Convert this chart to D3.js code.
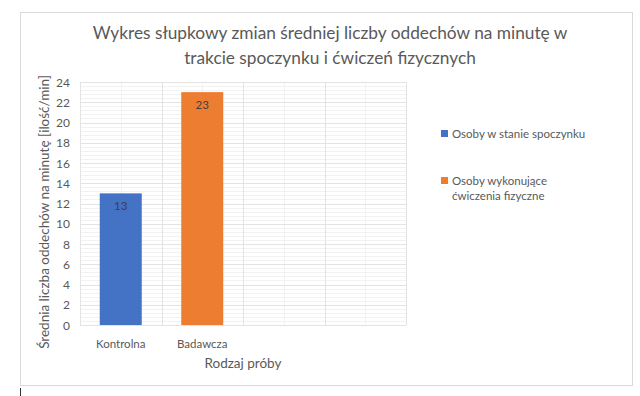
<!DOCTYPE html>
<html><head><meta charset="utf-8">
<script src="https://cdn.jsdelivr.net/npm/d3@7"></script>
<style>body{margin:0;background:#fff}svg{display:block}</style>
</head><body>
<script>
const categories = ["Kontrolna", "Badawcza", "", ""];
const seriesNames = ["Osoby w stanie spoczynku", "Osoby wykonujące ćwiczenia fizyczne"];
const seriesValues = [13, 23];            // value of each series
const seriesCategory = ["Kontrolna", "Badawcza"];
const yTicks = [0, 2, 4, 6, 8, 10, 12, 14, 16, 18, 20, 22, 24];
const colors = ["#4472C4", "#ED7D31"];
const titleLines = ["Wykres słupkowy zmian średniej liczby oddechów na minutę w", "trakcie spoczynku i ćwiczeń fizycznych"];

const W = 640, H = 396;
const font = "Lato, 'Open Sans', sans-serif";
const svg = d3.select("body").append("svg").attr("width", W).attr("height", H);
svg.append("rect").attr("x", 20.5).attr("y", 12.5).attr("width", 612).attr("height", 373)
  .attr("fill", "#fff").attr("stroke", "#D9D9D9");
svg.append("line").attr("x1", 20.5).attr("x2", 20.5).attr("y1", 388).attr("y2", 396).attr("stroke", "#333");

const m = {l: 80, r: 406, t: 82, b: 325};
const x = d3.scaleBand().domain(categories.map((c, i) => i)).range([m.l, m.r]).paddingInner(0).paddingOuter(0);
const y = d3.scaleLinear().domain([0, 24]).range([m.b, m.t]);

const g = svg.append("g");
// minor horizontal grid
g.selectAll(".hmin").data(d3.range(0, 24.01, 0.4)).enter().append("line")
  .attr("x1", m.l).attr("x2", m.r).attr("y1", d => Math.round(y(d)) + 0.5).attr("y2", d => Math.round(y(d)) + 0.5)
  .attr("stroke", "#F2F2F2");
// minor vertical grid
g.selectAll(".vmin").data(categories.map((c, i) => i)).enter().append("line")
  .attr("y1", m.t).attr("y2", m.b).attr("x1", d => Math.round(x(d) + x.bandwidth() / 2) + 0.5).attr("x2", d => Math.round(x(d) + x.bandwidth() / 2) + 0.5)
  .attr("stroke", "#F2F2F2");
// major horizontal grid
g.selectAll(".hmaj").data(yTicks).enter().append("line")
  .attr("x1", m.l).attr("x2", m.r).attr("y1", d => Math.round(y(d)) + 0.5).attr("y2", d => Math.round(y(d)) + 0.5)
  .attr("stroke", "#E3E3E3");
// major vertical grid
g.selectAll(".vmaj").data(d3.range(categories.length + 1)).enter().append("line")
  .attr("y1", m.t).attr("y2", m.b)
  .attr("x1", d => Math.round(d < categories.length ? x(d) : m.r) + 0.5)
  .attr("x2", d => Math.round(d < categories.length ? x(d) : m.r) + 0.5)
  .attr("stroke", "#E3E3E3");

// bars
const bw = 42;
seriesValues.forEach((v, i) => {
  const ci = categories.indexOf(seriesCategory[i]);
  const cx = x(ci) + x.bandwidth() / 2;
  svg.append("rect").attr("x", cx - bw / 2).attr("y", y(v)).attr("width", bw).attr("height", y(0) - y(v))
    .attr("fill", colors[i]);
  svg.append("text").attr("x", cx).attr("y", y(v) + 17).attr("text-anchor", "middle")
    .attr("font-family", font).attr("font-size", 11.5).attr("fill", "#404040").text(v);
});

// y axis labels
svg.selectAll(".yt").data(yTicks).enter().append("text")
  .attr("x", 70).attr("y", d => y(d) + 4.5).attr("text-anchor", "end")
  .attr("font-family", font).attr("font-size", 12).attr("fill", "#595959").text(d => d);
// x labels
svg.selectAll(".xt").data(categories.map((c, i) => i)).enter().append("text")
  .attr("x", d => x(d) + x.bandwidth() / 2).attr("y", 348).attr("text-anchor", "middle")
  .attr("font-family", font).attr("font-size", 11.5).attr("fill", "#595959").text(d => categories[d]);

// axis titles
svg.append("text").attr("x", 243).attr("y", 368).attr("text-anchor", "middle")
  .attr("font-family", font).attr("font-size", 13.5).attr("fill", "#595959").text("Rodzaj próby");
svg.append("text").attr("transform", `translate(49,212) rotate(-90)`).attr("text-anchor", "middle")
  .attr("font-family", font).attr("font-size", 13.5).attr("fill", "#595959").text("Średnia liczba oddechów na minutę [ilość/min]");

// title
titleLines.forEach((t, i) => {
  svg.append("text").attr("x", 330).attr("y", 39 + i * 25).attr("text-anchor", "middle")
    .attr("font-family", font).attr("font-size", 17.3).attr("fill", "#595959").text(t);
});

// legend
const legendY = [[134], [181, 196]];
const legendLines = [["Osoby w stanie spoczynku"], ["Osoby wykonujące", "ćwiczenia fizyczne"]];
seriesNames.forEach((s, i) => {
  svg.append("rect").attr("x", 441).attr("y", legendY[i][0] - 4).attr("width", 7).attr("height", 7).attr("fill", colors[i]);
  legendLines[i].forEach((ln, j) => {
    svg.append("text").attr("x", 452).attr("y", legendY[i][j] + 4).attr("font-family", font)
      .attr("font-size", 11.5).attr("fill", "#595959").text(ln);
  });
});
</script>
</body></html>
